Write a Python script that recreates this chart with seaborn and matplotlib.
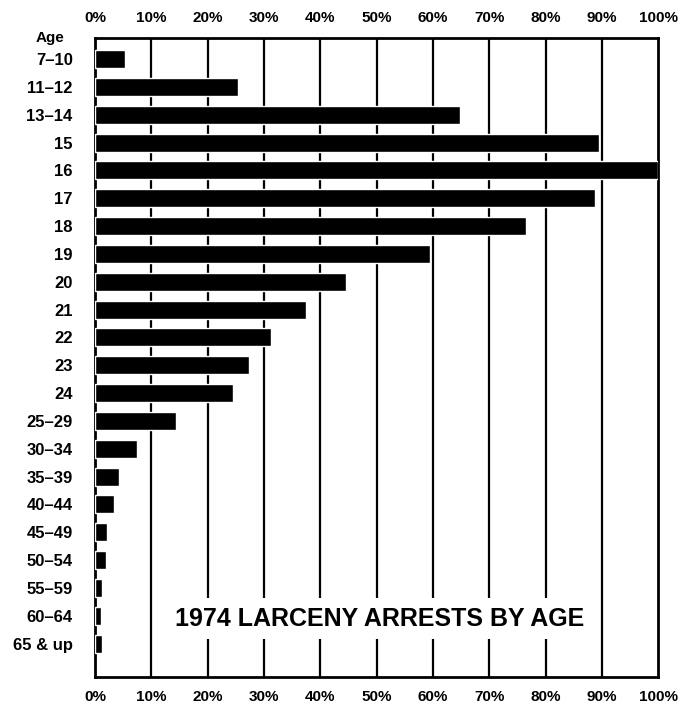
import matplotlib
matplotlib.use("Agg")
import matplotlib.pyplot as plt
import seaborn as sns
import pandas as pd

ages = ["7\u201310", "11\u201312", "13\u201314", "15", "16", "17", "18", "19", "20",
        "21", "22", "23", "24", "25\u201329", "30\u201334", "35\u201339", "40\u201344",
        "45\u201349", "50\u201354", "55\u201359", "60\u201364", "65 & up"]
pct = [5.3, 25.4, 64.8, 89.5, 100.0, 88.8, 76.5, 59.4, 44.5,
       37.5, 31.3, 27.4, 24.6, 14.4, 7.5, 4.3, 3.4, 2.1, 1.9, 1.2, 1.0, 1.2]
tick_vals = list(range(0, 101, 10))
tick_labels = [f"{v}%" for v in tick_vals]
title = "1974 LARCENY ARRESTS BY AGE"

df = pd.DataFrame({"age": ages, "pct": pct})

sns.set_style("white")
plt.rcParams["font.family"] = ["Liberation Sans", "DejaVu Sans"]
plt.rcParams["text.color"] = "black"
plt.rcParams["xtick.color"] = "black"
plt.rcParams["ytick.color"] = "black"

fig = plt.figure(figsize=(6.98, 7.07), dpi=100)
ax = fig.add_axes([0.136, 0.0424, 0.807, 0.904])

sns.barplot(data=df, x="pct", y="age", color="black", saturation=1,
            width=0.65, ax=ax, zorder=3)

ax.set_xlim(0, 100)
ax.set_ylim(22.2, -0.76)
ax.set_xticks(tick_vals)
ax.set_xticklabels(tick_labels, fontsize=11, fontweight="bold")
ax.tick_params(axis="x", top=True, labeltop=True, bottom=True, labelbottom=True,
               length=0, pad=9)
ax.tick_params(axis="y", length=0, pad=16, labelsize=12)
for lab in ax.get_yticklabels():
    lab.set_fontweight("bold")
ax.set_xlabel("")
ax.set_ylabel("")

# vertical rules
for v in tick_vals[1:-1]:
    ax.axvline(v, color="black", lw=1.6, zorder=1)
for s in ax.spines.values():
    s.set_color("black")
    s.set_linewidth(2)

fig.text(50 / 698, 1 - 38 / 707, "Age", ha="center", va="center",
         fontsize=11, fontweight="bold")

ax.text(50.5, 20.1, title, ha="center", va="center", fontsize=18,
        fontweight="bold",
        bbox=dict(facecolor="white", edgecolor="none", pad=6), zorder=4)

fig.savefig("out.png", dpi=100)
